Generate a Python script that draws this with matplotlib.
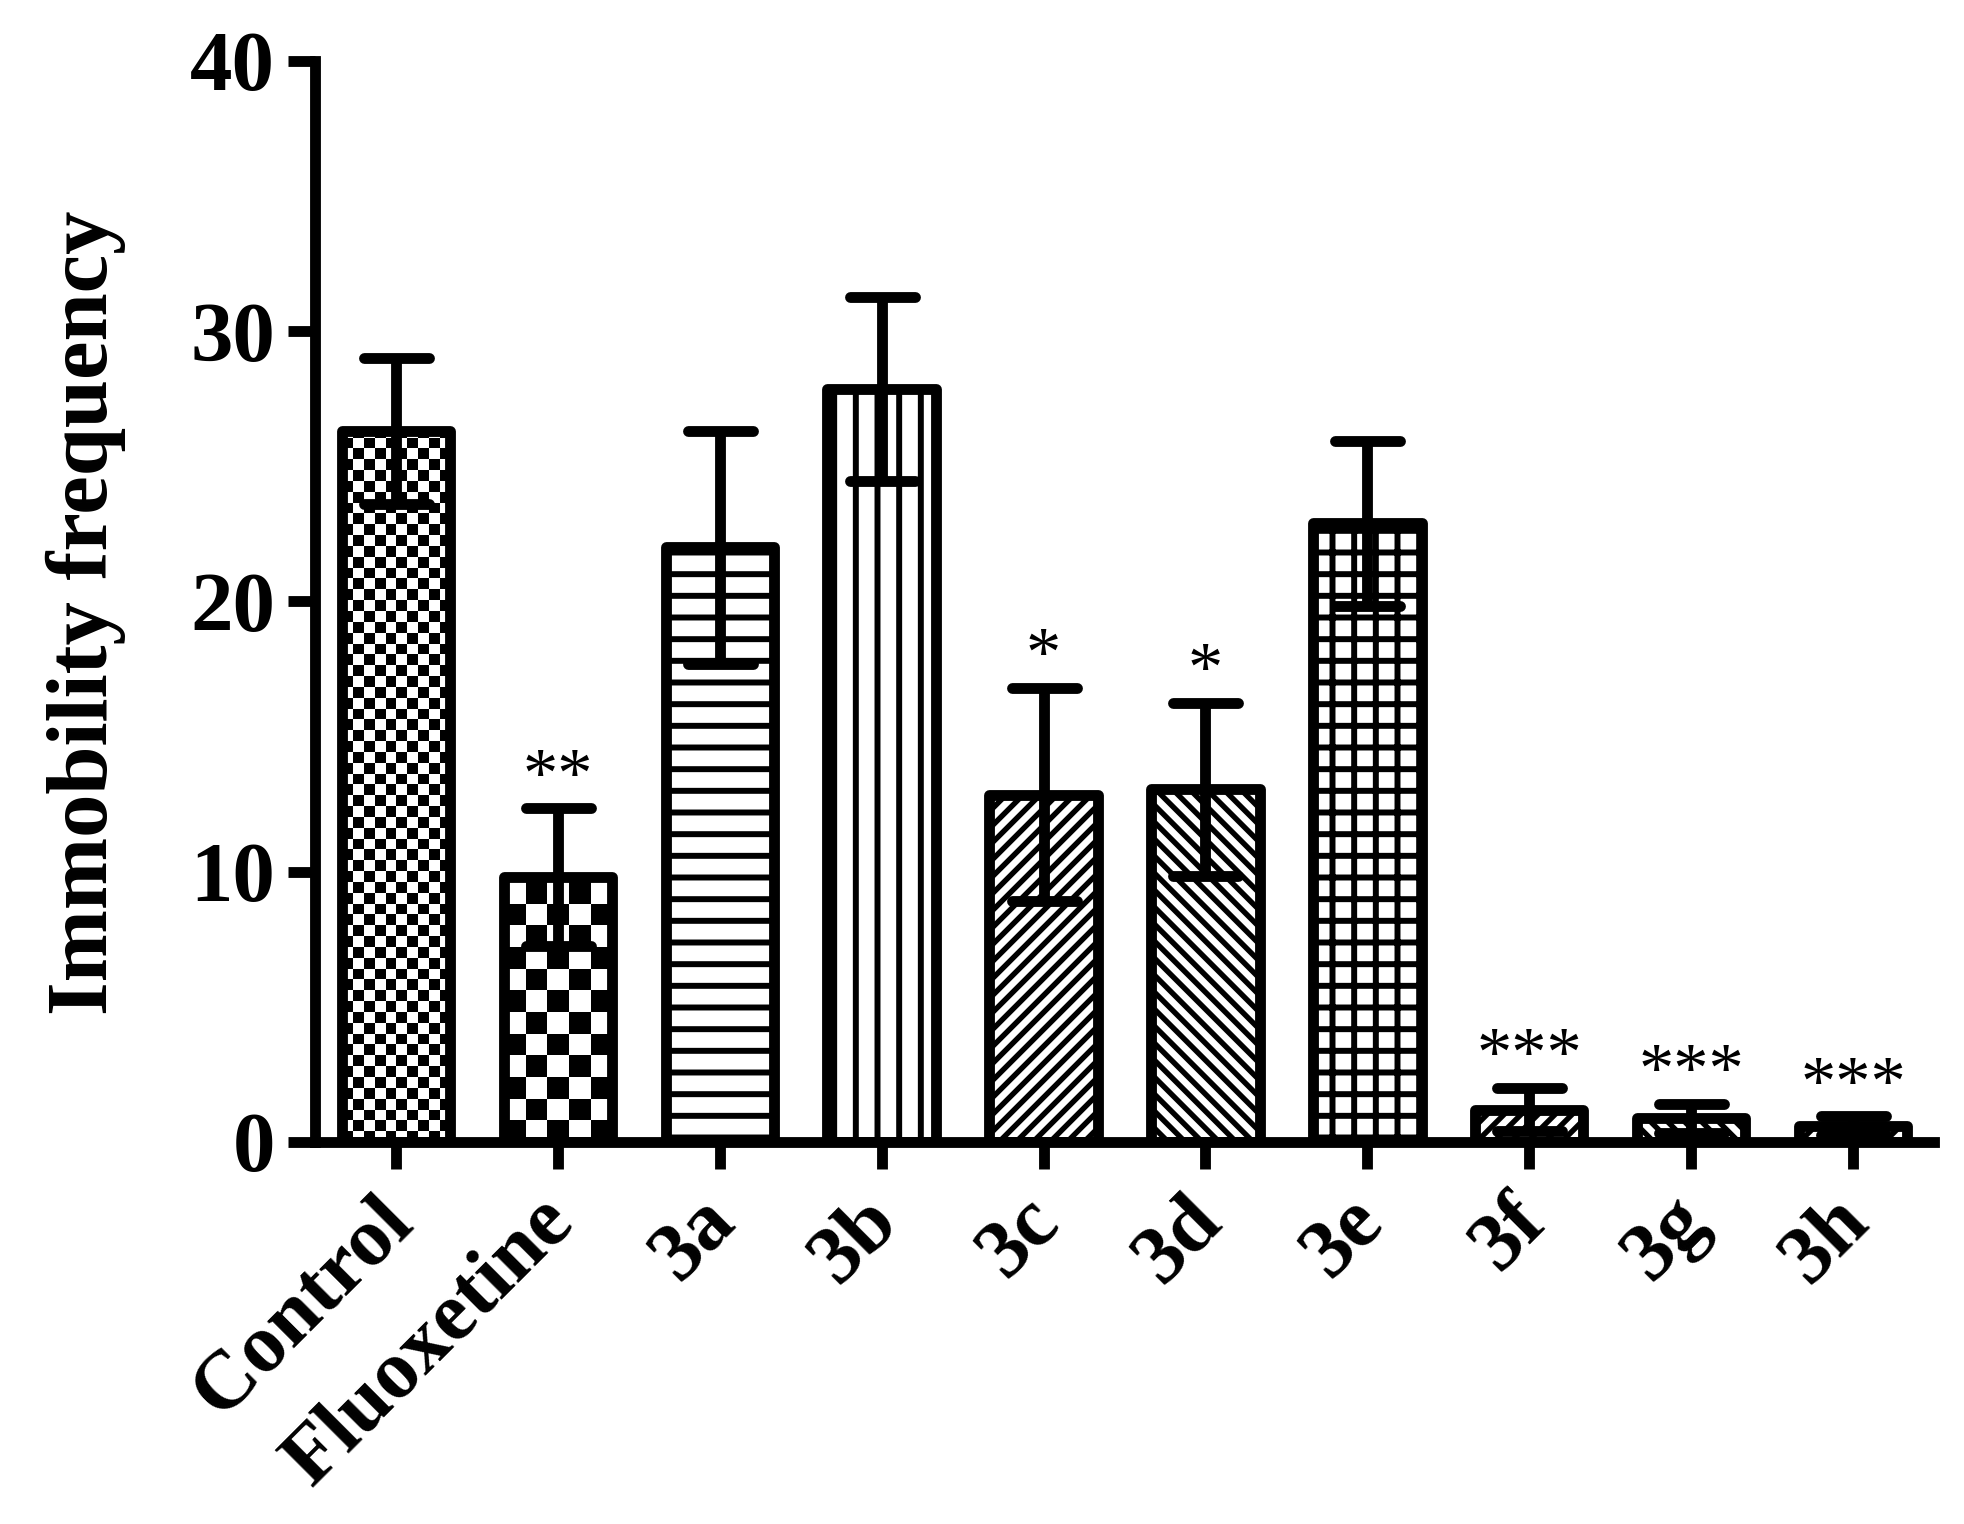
import matplotlib
matplotlib.use("Agg")
import matplotlib.pyplot as plt
from matplotlib.markers import MarkerStyle
from matplotlib.collections import LineCollection
from matplotlib.transforms import ScaledTranslation
import numpy as np

# values
groups = ['Control', 'Fluoxetine', '3a', '3b', '3c', '3d', '3e', '3f', '3g', '3h']
means = [26.3, 9.8, 22.0, 27.85, 12.85, 13.05, 22.9, 1.2, 0.87, 0.6]
sems = [2.7, 2.55, 4.3, 3.4, 3.95, 3.2, 3.05, 0.8, 0.53, 0.35]
stars = ['', '**', '', '', '*', '*', '', '***', '***', '***']
yticks = [0, 10, 20, 30, 40]

# fill per bar: checkerboard (square px), diagonal stripes (direction) or hatch
fills = [('checker', 130 / 12), ('checker', 130 / 6), '-', '|',
         ('diag', 1), ('diag', -1), '+', ('diag', 1), ('diag', -1), ('diag', 1)]
DIAG_PERIOD = 17  # horizontal spacing of the slanted stripes, px

DPI = 130
plt.rcParams['font.family'] = ['Liberation Serif', 'DejaVu Serif']
plt.rcParams['font.weight'] = 'bold'
plt.rcParams['hatch.linewidth'] = 3.3
plt.rcParams['hatch.color'] = 'black'

fig = plt.figure(figsize=(1964 / DPI, 1524 / DPI), dpi=DPI)
ax = fig.add_axes([0.1604, 0.2507, 0.8243, 0.7093])

x = np.arange(len(groups))
ax.set_xlim(-0.5, len(groups) - 0.5)
ax.set_ylim(0, 40)

bars = ax.bar(x, means, width=0.67, facecolor='none', edgecolor='black',
              linewidth=6, joinstyle='round', zorder=2)

# pixels per data unit, used to keep patterns square / at 45 degrees
p0 = ax.transData.transform((0, 0))
p1 = ax.transData.transform((1, 1))
sx, sy = p1[0] - p0[0], p1[1] - p0[1]

for rect, f in zip(bars, fills):
    x0, w, h = rect.get_x(), rect.get_width(), rect.get_height()
    if isinstance(f, tuple) and f[0] == 'checker':
        s = f[1]
        ncol = int(np.ceil(w * sx / s)) + 1
        nrow = int(np.ceil(h * sy / s)) + 1
        board = np.add.outer(np.arange(nrow), np.arange(ncol)) % 2
        im = ax.imshow(board, cmap='gray', vmin=0, vmax=1, origin='lower',
                       interpolation='nearest', aspect='auto', zorder=1,
                       extent=(x0, x0 + ncol * s / sx, 0, nrow * s / sy))
        im.set_clip_path(rect)
    elif isinstance(f, tuple) and f[0] == 'diag':
        hpx = h * sy
        step = DIAG_PERIOD / sx
        starts = np.arange(x0 - hpx / sx - step, x0 + w + step, step)
        if f[1] > 0:
            segs = [[(xs, 0), (xs + hpx / sx, h)] for xs in starts]
        else:
            segs = [[(xs, h), (xs + hpx / sx, 0)] for xs in starts]
        lc = LineCollection(segs, colors='black', linewidths=3.0, zorder=1.5)
        ax.add_collection(lc)
        lc.set_clip_path(rect)
    else:
        rect.set_hatch(f)

eb = ax.errorbar(x, means, yerr=sems, fmt='none', ecolor='black',
                 elinewidth=6, capsize=18, capthick=6, zorder=3)
for cl in eb[1]:
    try:
        cl.set_marker(MarkerStyle('_', capstyle='round'))
    except TypeError:
        pass

for xi, m, e, s in zip(x, means, sems, stars):
    if s:
        ax.annotate(s, (xi, m + e), xytext=(0, 7), textcoords='offset points',
                    ha='center', va='baseline', fontsize=39, fontweight='normal')

ax.set_xlim(-0.5, len(groups) - 0.5)
ax.set_ylim(0, 40)
ax.set_yticks(yticks)
ax.set_xticks(x)
ax.tick_params(axis='y', labelsize=47, length=15, width=6, pad=7)
ax.tick_params(axis='x', length=15, width=6, pad=8)
ax.set_xticklabels(groups, rotation=45, ha='right', va='top',
                   rotation_mode='anchor', fontsize=46, fontweight='bold')
# nudge the slanted labels a little to the left, as in the original
shift = ScaledTranslation(-22 / DPI, 0, fig.dpi_scale_trans)
for t in ax.get_xticklabels():
    t.set_transform(t.get_transform() + shift)
for t in ax.get_yticklabels():
    t.set_fontweight('bold')

for side in ['top', 'right']:
    ax.spines[side].set_visible(False)
for side in ['left', 'bottom']:
    ax.spines[side].set_linewidth(6)

ax.set_ylabel('Immobility frequency', fontsize=48, fontweight='bold')
ax.yaxis.set_label_coords(-0.117, 0.49)

fig.savefig('out.png', dpi=DPI)
